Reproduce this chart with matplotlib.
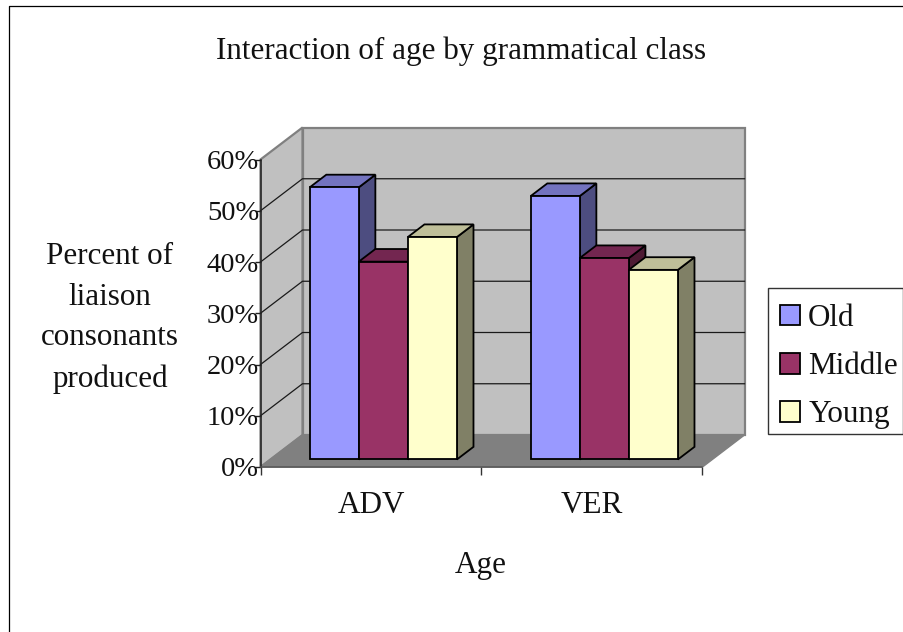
import matplotlib as mpl
mpl.use("Agg")
import matplotlib.pyplot as plt
from matplotlib.lines import Line2D
from matplotlib.patches import Patch, Polygon, Rectangle

plt.rcParams["font.family"] = ["Liberation Serif", "DejaVu Serif"]

categories = ["ADV", "VER"]
series_names = ["Old", "Middle", "Young"]
old = [0.531, 0.514]
middle = [0.386, 0.393]
young = [0.434, 0.370]
y_ticks = [0, 0.1, 0.2, 0.3, 0.4, 0.5, 0.6]

front_colors = ["#9999FF", "#993366", "#FFFFCC"]
top_colors = ["#7373BF", "#732650", "#BFBF99"]
side_colors = ["#4D4D80", "#4D1A33", "#808066"]

W, H = 904, 632
FS = 22.4
TICK_FS = 20.5
fig = plt.figure(figsize=(W / 100, H / 100), dpi=100)

# front plane of the 3d box, in pixels
left, right, bottom, top = 260.5, 702.5, 467, 159.5
ax = fig.add_axes([left / W, 1 - bottom / H, (right - left) / W, (bottom - top) / H])
ax.set_xlim(0, 2)
ax.set_ylim(0, 0.6)
ax.patch.set_visible(False)

# one unit of depth = 42px right, 32px up
dx = 42 / (right - left) * 2
dy = 32 / (bottom - top) * 0.6


def proj(x, y, d):
    return (x + d * dx, y + d * dy)


def poly(pts, fc, ec="black", lw=1.3, z=2):
    ax.add_patch(Polygon(pts, closed=True, fc=fc, ec=ec, lw=lw, zorder=z, clip_on=False, joinstyle="miter"))


# walls and floor
poly([proj(0, 0, 1), proj(2, 0, 1), proj(2, 0.6, 1), proj(0, 0.6, 1)], "#C0C0C0", "#808080", 1.6, 1)
poly([proj(0, 0, 0), proj(0, 0, 1), proj(0, 0.6, 1), proj(0, 0.6, 0)], "#C0C0C0", "#808080", 1.6, 1)
poly([proj(0, 0, 0), proj(2, 0, 0), proj(2, 0, 1), proj(0, 0, 1)], "#808080", "#808080", 1.0, 1.2)

for t in y_ticks[1:-1]:
    a, b, c = proj(0, t, 0), proj(0, t, 1), proj(2, t, 1)
    ax.plot([a[0], b[0], c[0]], [a[1], b[1], c[1]], color="#1a1a1a", lw=0.9, zorder=1.5, clip_on=False)

# bars
bar_w = 0.222
margin = 0.178
d0, d1 = 0.235, 0.63
for i, cat in enumerate(categories):
    for j, vals in enumerate([old, middle, young]):
        x0 = i + margin + j * bar_w
        x1 = x0 + bar_w
        v = vals[i]
        poly([proj(x1, 0, d0), proj(x1, 0, d1), proj(x1, v, d1), proj(x1, v, d0)], side_colors[j])
        poly([proj(x0, v, d0), proj(x1, v, d0), proj(x1, v, d1), proj(x0, v, d1)], top_colors[j])
        poly([proj(x0, 0, d0), proj(x1, 0, d0), proj(x1, v, d0), proj(x0, v, d0)], front_colors[j])

# axes
for s in ["top", "right"]:
    ax.spines[s].set_visible(False)
ax.spines["left"].set_linewidth(1.1)
ax.spines["left"].set_color("#222222")
ax.spines["bottom"].set_linewidth(1.1)
ax.spines["bottom"].set_color("#555555")
ax.spines["left"].set_zorder(3)
ax.spines["bottom"].set_zorder(3)

ax.set_yticks(y_ticks)
ax.set_yticklabels([f"{round(t * 100)}%" for t in y_ticks], fontsize=TICK_FS, color="#111111")
ax.tick_params(axis="y", length=4, width=1.0, pad=-3, color="#222222")
ax.set_xticks([0, 1, 2])
ax.set_xticklabels([])
ax.tick_params(axis="x", which="major", length=6, width=1.0, color="#333333")
ax.set_xticks([0.5, 1.5], minor=True)
ax.set_xticklabels(categories, minor=True, fontsize=FS, color="#111111")
ax.tick_params(axis="x", which="minor", length=0, pad=17.5)

fig.text(461.5 / W, 1 - 51 / H, "Interaction of age by grammatical class", ha="center", va="center",
         fontsize=FS, color="#111111")
fig.text(110 / W, 1 - 318 / H, "Percent of\nliaison\nconsonants\nproduced", ha="center", va="center",
         fontsize=FS, linespacing=1.52, color="#111111")
fig.text(481 / W, 1 - 565 / H, "Age", ha="center", va="center", fontsize=FS, color="#111111")

# legend frame is separate so the entries can sit low in the box like the original
fig.add_artist(Rectangle((768 / W, 1 - 433.5 / H), 135 / W, 145.5 / H, transform=fig.transFigure,
                         fc="white", ec="#333333", lw=1.0, zorder=4))
handles = [Patch(fc=c, ec="black", lw=1.3) for c in front_colors]
leg = fig.legend(handles, series_names, loc="lower left",
                 bbox_to_anchor=(769 / W, 1 - 440.5 / H, 134 / W, 146 / H), mode="expand",
                 fontsize=FS, frameon=False,
                 handlelength=0.64, handleheight=0.64, handletextpad=0.26, labelspacing=0.615,
                 borderaxespad=0, borderpad=0.36, labelcolor="#111111")
leg.set_zorder(5)

# chart area border, only left and top are inside the picture
fig.add_artist(Line2D([9 / W, 9 / W, 1], [0, 1 - 5.5 / H, 1 - 5.5 / H], color="black", lw=0.9))

fig.savefig("out.png", dpi=100)
